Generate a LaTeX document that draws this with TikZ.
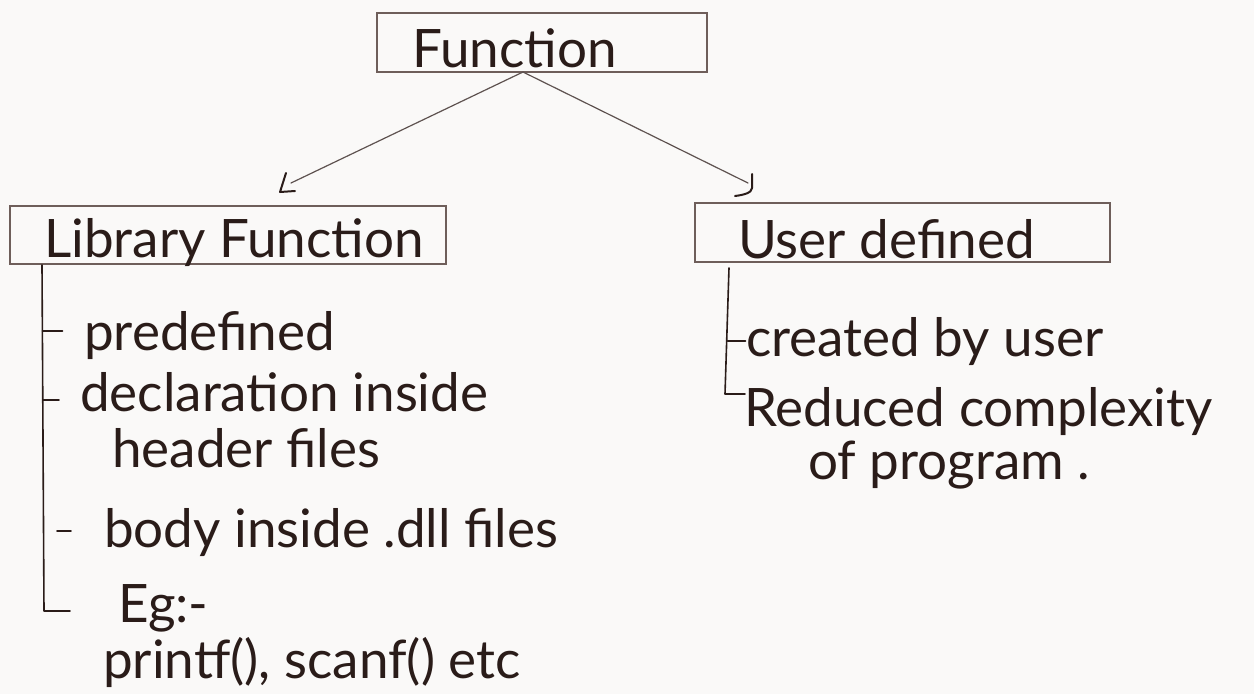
\documentclass[tikz,border=0pt]{standalone}
\usepackage{fontspec}
\usetikzlibrary{calc}
\setmainfont{Lato}
\definecolor{paper}{HTML}{FAF9F8}
\definecolor{inkc}{HTML}{2A1C19}
\definecolor{framec}{HTML}{6E5E5A}
\definecolor{linkc}{HTML}{5E5250}
\begin{document}
\begin{tikzpicture}[x=1pt,y=-1pt,
  frame/.style={draw=framec, line width=1.7pt, inner sep=0pt},
  title/.style={text=inkc, inner sep=0pt, anchor=base west, font=\fontsize{53}{60}\selectfont},
  item/.style={text=inkc, inner sep=0pt, anchor=base west, font=\fontsize{53}{60}\selectfont},
  link/.style={draw=linkc, line width=1.2pt, line cap=round},
  tip/.style={draw=inkc, line width=2pt, line cap=round, line join=round},
  branch/.style={draw=inkc, line width=1.6pt, line cap=round, line join=round}]
\fill[paper] (0,0) rectangle (1254,694);
\useasboundingbox (0,0) rectangle (1254,694);

% boxes
\node[frame, minimum width=330pt, minimum height=59pt] (fn) at (542,42.5) {};
\node[frame, minimum width=436pt, minimum height=58pt] (lib) at (228,235) {};
\node[frame, minimum width=415pt, minimum height=59pt] (usr) at (902.5,232.5) {};

% headings
\node[title] (fntxt) at (412,67) {Function};
\node[title] (libtxt) at (44,257) {Library Function};
\node[title] (usrtxt) at (738,258) {User defined};

% connectors from the top box
\coordinate (fork) at (523,72);
\coordinate (lend) at (291,183);
\coordinate (rend) at (748,183);
\draw[link] (fork) -- (lend);
\draw[link] (fork) -- (rend);
\draw[tip] ($(lend)+(-5,-10)$) -- ++(-6,19) -- ++(15,-1);
\draw[tip] ($(rend)+(4,-9)$) -- ++(0,14) .. controls ++(0,5) and ++(8,-1) .. ++(-17,8);

% library function branches
\coordinate (ltop) at (42,265);
\coordinate (lbot) at (44,611);
\draw[branch] (ltop) -- (lbot) -- ++(26,0);
\draw[branch] (42.5,331) -- ++(20,0);
\draw[branch] (43,400) -- ++(16,0);
\draw[branch] (57,531) -- ++(14,0);

\node[item] (i1) at (84,350) {predefined};
\node[item] (i2) at (80,411) {declaration inside};
\node[item] (i3) at (112,467) {header files};
\node[item] (i4) at (104,547) {body inside .dll files};
\node[item] (i5) at (118,622) {Eg:-};
\node[item] (i6) at (103,678) {printf(), scanf() etc};

% user defined branches
\coordinate (utop) at (729,268);
\coordinate (ubot) at (725,394);
\draw[branch] (utop) -- (ubot) -- ++(20,0);
\draw[branch] (727.5,341) -- ++(18,0);

\node[item] (u1) at (746,356) {created by user};
\node[item] (u2) at (744,426) {Reduced complexity};
\node[item] (u3) at (808,479) {of program .};
\end{tikzpicture}
\end{document}
